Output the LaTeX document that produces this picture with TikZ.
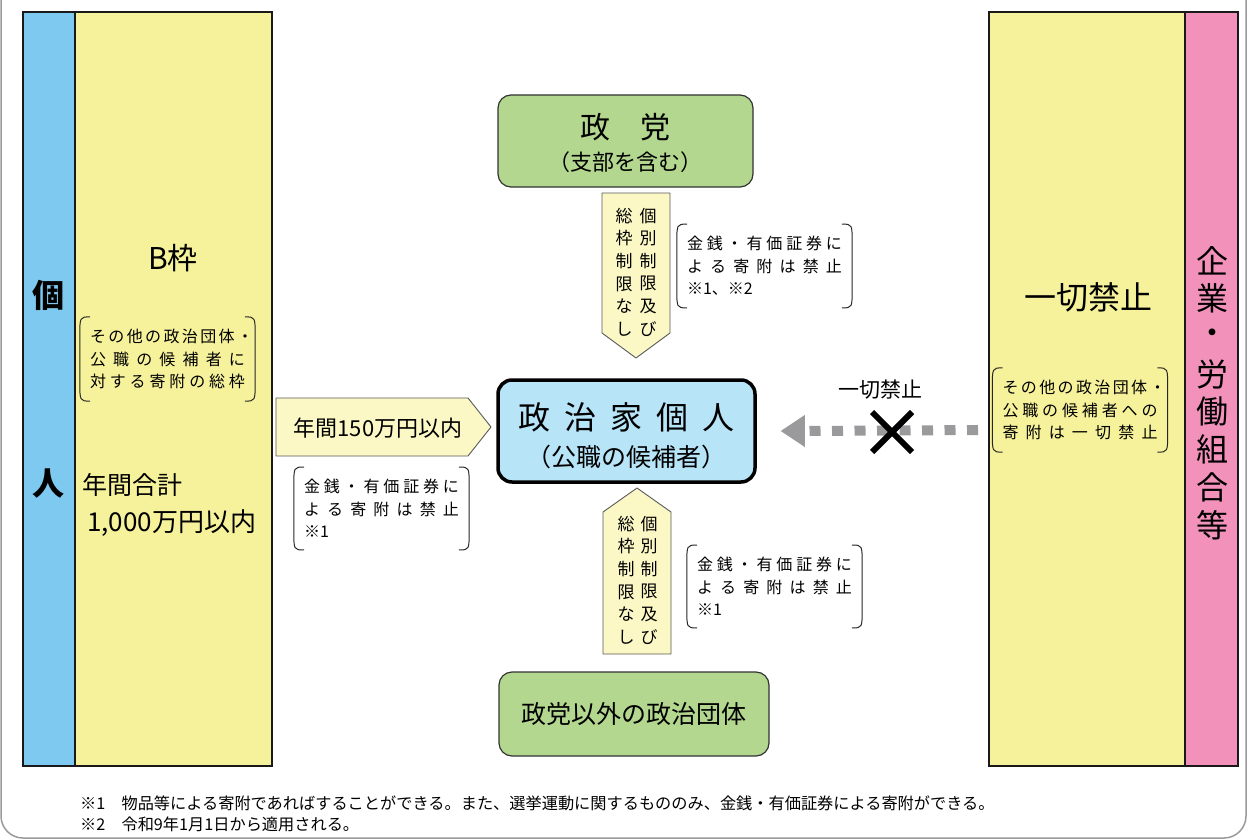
\documentclass[tikz,border=0pt]{standalone}
\usepackage{fontspec}
\setmainfont{Noto Sans CJK JP}

\definecolor{aoiro}{HTML}{7DC9F0}
\definecolor{kiiro}{HTML}{F6F29B}
\definecolor{momo}{HTML}{F292BB}
\definecolor{midori}{HTML}{B3D78F}
\definecolor{mizu}{HTML}{B8E4F8}
\definecolor{usuki}{HTML}{FBF8C6}
\definecolor{haiiro}{HTML}{9A9A9C}

\newcommand{\jl}[1]{\makebox[155pt][s]{#1}}
\newcommand{\fs}[1]{\fontsize{#1}{#1}\selectfont}

\tikzset{
	hashira/.style={draw=black!90, line width=2.2, line join=miter},
	hako/.style={draw=black!80, line width=1.2, rounded corners=13},
	yajirushi/.style={fill=usuki, draw=black!65, line width=0.9},
	chui/.style={font=\fontsize{16}{22.5}\selectfont, align=left, inner xsep=10, inner ysep=12},
	kakko/.style={draw=black!85, line width=1},
	tate/.style={font=\fontsize{17}{22.6}\selectfont, align=center, inner sep=0}
}

\begin{document}
\begin{tikzpicture}[x=1pt, y=-1pt, line join=round, line cap=round, >=stealth]
		
		\useasboundingbox (0,0) rectangle (1248,840);
		\clip (0,0) rectangle (1248,840);
		
		\def\kakko#1{%
			\draw[kakko] ([xshift=10pt]#1.north west) .. controls (#1.north west) .. ([yshift=-20pt]#1.north west)
			-- ([yshift=20pt]#1.south west) .. controls (#1.south west) .. ([xshift=10pt]#1.south west);
			\draw[kakko] ([xshift=-10pt]#1.north east) .. controls (#1.north east) .. ([yshift=-20pt]#1.north east)
			-- ([yshift=20pt]#1.south east) .. controls (#1.south east) .. ([xshift=-10pt]#1.south east);}
		
		% outer frame
		\draw[haiiro, line width=1.5, rounded corners=22] (1,-40) -- (1,838) -- (1246,838) -- (1246,-40);
		
		% left: individuals
		\filldraw[fill=aoiro, hashira] (23,12) rectangle (75,766);
		\filldraw[fill=kiiro, hashira] (75,12) rectangle (272,766);
		\node[font=\fs{32}\bfseries] (ko) at (48,295) {個};
		\node[font=\fs{32}\bfseries] (hito) at (48,484) {人};
		\node[font=\fs{30}] (bwaku) at (173,258) {B枠};
		\node[chui] (bnote) at (167.5,359) {\jl{そ の 他 の 政 治 団 体 ・}\\ \jl{公 職 の 候 補 者 に}\\ \jl{対 す る 寄 附 の 総 枠}};
		\kakko{bnote}
		\node[font=\fs{25}, anchor=west, inner sep=0] (goukei) at (82,485) {年間合計};
		\node[font=\fs{26}, anchor=west, inner sep=0] (sengoku) at (87,523) {1,000万円以内};
		
		% right: companies, unions
		\filldraw[fill=kiiro, hashira] (989,12) rectangle (1185,766);
		\filldraw[fill=momo, hashira] (1185,12) rectangle (1238,766);
		\node[font=\fs{32}] (kinshi) at (1088,297) {一切禁止};
		\node[chui] (knote) at (1080,410) {\jl{そ の 他 の 政 治 団 体 ・}\\ \jl{公 職 の 候 補 者 へ の}\\ \jl{寄 附 は 一 切 禁 止}};
		\kakko{knote}
		\foreach \c [count=\i from 0] in {企,業,・,労,働,組,合,等}
		\node[font=\fs{32}] (kigyo\i) at (1212,{261+37.7*\i}) {\c};
		
		% center boxes
		\node[hako, fill=midori, minimum width=255, minimum height=92] (seito) at (625.5,141) {};
		\node[font=\fs{30}] (seito1) at ([yshift=14pt]seito.center) {政\hspace{1em}党};
		\node[font=\fs{22}] (seito2) at ([yshift=-21pt]seito.center) {（支部を含む）};
		
		\node[draw=black, line width=3.5, rounded corners=14, fill=mizu, minimum width=257, minimum height=102] (seijika) at (626.5,431) {};
		\node[font=\fs{32}] (seijika1) at ([yshift=14pt]seijika.center) {\makebox[217pt][s]{政 治 家 個 人}};
		\node[font=\fs{25}] (seijika2) at ([yshift=-26pt]seijika.center) {（公職の候補者）};
		
		\node[hako, fill=midori, minimum width=270, minimum height=84] (dantai) at (634,714) {};
		\node[font=\fs{25}] (dantai1) at (dantai.center) {政党以外の政治団体};
		
		% from party
		\draw[yajirushi] (602,193) -- (670,193) -- (670,333) -- (636,358) -- (602,333) -- cycle;
		\node[tate] (kobetsu1) at (648,272) {個\\別\\制\\限\\及\\び};
		\node[tate] (sowaku1) at (624,272) {総\\枠\\制\\限\\な\\し};
		\node[chui] (kin1) at (764.5,266) {\jl{金 銭 ・ 有 価 証 券 に}\\ \jl{よ る 寄 附 は 禁 止}\\ ※1、※2};
		\kakko{kin1}
		
		% from individuals
		\draw[yajirushi] (276,398) -- (468,398) -- (491,427) -- (468,456) -- (276,456) -- cycle;
		\node[font=\fs{22}] (nenkan) at (378,428) {年間150万円以内};
		\node[chui] (kin2) at (381.5,508.5) {\jl{金 銭 ・ 有 価 証 券 に}\\ \jl{よ る 寄 附 は 禁 止}\\ ※1};
		\kakko{kin2}
		
		% from other groups
		\draw[yajirushi] (603,654) -- (603,512) -- (637,488) -- (671,512) -- (671,654) -- cycle;
		\node[tate] (kobetsu2) at (649,580) {個\\別\\制\\限\\及\\び};
		\node[tate] (sowaku2) at (626,580) {総\\枠\\制\\限\\な\\し};
		\node[chui] (kin3) at (774.5,586.5) {\jl{金 銭 ・ 有 価 証 券 に}\\ \jl{よ る 寄 附 は 禁 止}\\ ※1};
		\kakko{kin3}
		
		% forbidden arrow
		\coordinate (moto) at (978,430);
		\coordinate (saki) at ([xshift=24pt]seijika.east);
		\draw[haiiro, line width=10, line cap=butt, dash pattern=on 11 off 11.5] (moto) -- ([xshift=26pt]saki);
		\fill[haiiro] (saki) -- ([xshift=24pt,yshift=16pt]saki) -- ([xshift=24pt,yshift=-16pt]saki) -- cycle;
		\draw[line width=6, line cap=butt] (872,412) -- (912,452) (912,412) -- (872,452);
		\node[font=\fs{21}] (kinshi2) at (880,390) {一切禁止};
		
		% notes
		\node[font=\fs{16.2}, anchor=west, inner sep=0] (chu1) at (80,803) {※1　物品等による寄附であればすることができる。また、選挙運動に関するもののみ、金銭・有価証券による寄附ができる。};
		\node[font=\fs{16.2}, anchor=west, inner sep=0] (chu2) at (80,824) {※2　令和9年1月1日から適用される。};
		
\end{tikzpicture}
\end{document}
